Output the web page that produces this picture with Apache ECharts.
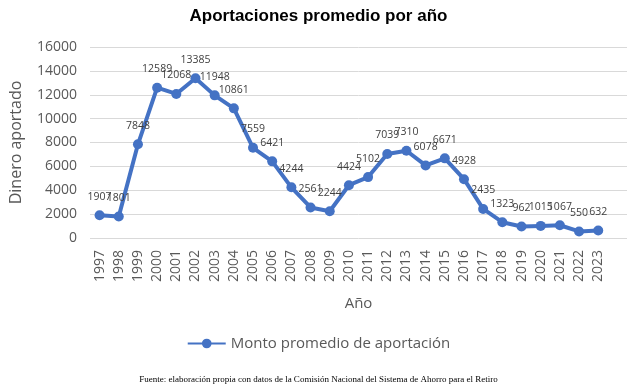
<!DOCTYPE html>
<html><head><meta charset="utf-8">
<script src="https://cdn.jsdelivr.net/npm/echarts@6/dist/echarts.min.js"></script>
<style>html,body{margin:0;padding:0;background:#fff;}#c{width:637px;height:390px;}</style>
</head><body><div id="c"></div>
<script>
const years = ['1997','1998','1999','2000','2001','2002','2003','2004','2005','2006','2007','2008','2009','2010','2011','2012','2013','2014','2015','2016','2017','2018','2019','2020','2021','2022','2023'];
const montos = [1907,1801,7848,12589,12068,13385,11948,10861,7559,6421,4244,2561,2244,4424,5102,7039,7310,6078,6671,4928,2435,1323,962,1015,1067,550,632];
const yTicks = [0,2000,4000,6000,8000,10000,12000,14000,16000];
const title = 'Aportaciones promedio por año';
const seriesName = 'Monto promedio de aportación';
const source = 'Fuente: elaboración propia con datos de la Comisión Nacional del Sistema de Ahorro para el Retiro';

const chart = echarts.init(document.getElementById('c'), null, {renderer:'canvas'});
const blue = '#4472C4';
chart.setOption({
  animation:false,
  backgroundColor:'#fff',
  title:[{text:title,left:'center',top:3,textStyle:{fontFamily:'Liberation Sans',fontWeight:'bold',fontSize:17,color:'#000'}},
         {text:source,left:'center',top:370,textStyle:{fontFamily:'Liberation Serif',fontWeight:'normal',fontSize:9,color:'#000'}}],
  grid:{left:83,right:10,top:47,bottom:152,containLabel:false},
  legend:{data:[seriesName],left:'center',top:331,itemWidth:38,itemHeight:12,itemGap:2,
    textStyle:{fontFamily:'Open Sans',fontSize:15,color:'#595959'}},
  xAxis:{type:'category',data:years.concat(['']),boundaryGap:true,
    name:'Año',nameLocation:'middle',nameGap:58,
    nameTextStyle:{fontFamily:'Open Sans',fontSize:15,color:'#595959'},
    axisLine:{show:false},axisTick:{show:false},
    axisLabel:{rotate:90,interval:0,margin:12,fontFamily:'Open Sans',fontSize:14,color:'#595959'}},
  yAxis:{type:'value',min:yTicks[0],max:yTicks[yTicks.length-1],interval:yTicks[1]-yTicks[0],
    name:'Dinero aportado',nameLocation:'middle',nameGap:66,
    nameTextStyle:{fontFamily:'Open Sans',fontSize:16,color:'#595959'},
    axisLabel:{margin:13,fontFamily:'Open Sans',fontSize:14,color:'#595959',formatter:v=>String(v)},
    splitLine:{lineStyle:{color:'#D9D9D9',width:1}},
    axisLine:{show:false},axisTick:{show:false}},
  series:[{name:seriesName,type:'line',data:montos,
    symbol:'circle',symbolSize:10,
    lineStyle:{color:blue,width:4},itemStyle:{color:blue},
    label:{show:true,position:'top',distance:8,fontFamily:'Open Sans',fontSize:10.5,color:'#404040'}}]
});
</script></body></html>
